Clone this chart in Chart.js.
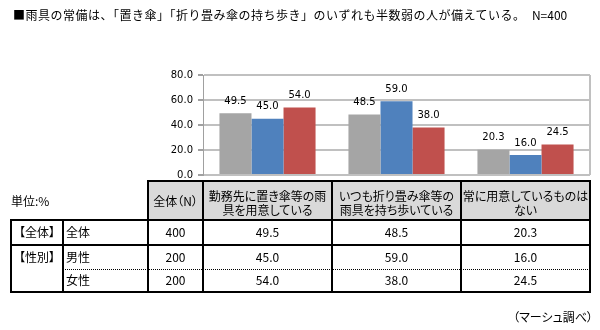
<!DOCTYPE html>
<html lang="ja">
<head>
<meta charset="utf-8">
<script src="https://cdn.jsdelivr.net/npm/chart.js@4.4.0/dist/chart.umd.min.js"></script>
<style>
  body {
    margin: 0;
    width: 600px;
    height: 330px;
    background: #fff;
    position: relative;
    overflow: hidden;
    font-family: "Noto Sans CJK JP", sans-serif;
    color: #000;
  }
  #title {
    position: absolute; left: 13px; top: 7px;
    font-size: 12px; line-height: 16px; letter-spacing: 0.5px; white-space: nowrap;
  }
  #title span { letter-spacing: 0; }
  #chartBox { position: absolute; left: 0; top: 0; }
  #table { position: absolute; left: 0; top: 0; width: 600px; height: 330px; font-feature-settings: "palt"; }
  .ln { position: absolute; background: #000; }
  .dot { position: absolute; border-top: 1px dotted #000; height: 0; }
  .bg { position: absolute; background: #d9d9d9; }
  .cell {
    position: absolute; display: flex; align-items: center; justify-content: center;
    text-align: center; font-size: 12px; line-height: 14px; white-space: nowrap;
  }
  .cell.left { justify-content: flex-start; padding-left: 3px; box-sizing: border-box; }
  #source {
    position: absolute; right: 7px; top: 309px;
    font-size: 12px; line-height: 16px; font-feature-settings: "palt";
  }
</style>
</head>
<body>
<div id="chartBox"><canvas id="chart" width="600" height="190"></canvas></div>
<div id="table"></div>
<div id="title">■雨具の常備は、「置き傘」「折り畳み傘の持ち歩き」のいずれも半数弱の人が備えている。　<span>N=400</span></div>
<div id="source">（マーシュ調べ）</div>
<script>
// カテゴリ（表の見出しは2行）
const categories = [
    ['勤務先に置き傘等の雨', '具を用意している'],
    ['いつも折り畳み傘等の', '雨具を持ち歩いている'],
    ['常に用意しているものは', 'ない']
];
const seriesNames = ['全体', '男性', '女性'];
const groupLabels = ['【全体】', '【性別】', ''];
const sampleSizes = [400, 200, 200];

// 値（%）
const zentai = [49.5, 48.5, 20.3];
const dansei = [45.0, 59.0, 16.0];
const josei = [54.0, 38.0, 24.5];

const yTicks = [0, 20, 40, 60, 80];
const unitLabel = '単位:%';
const nHeader = '全体（N）';

// 棒の上に数値を表示
const barLabels = {
    id: 'barLabels',
    afterDatasetsDraw(chart) {
        const ctx = chart.ctx;
        ctx.save();
        ctx.font = '10px "DejaVu Sans"';
        ctx.fillStyle = '#000';
        ctx.textAlign = 'center';
        ctx.textBaseline = 'middle';
        chart.data.datasets.forEach((ds, i) => {
            chart.getDatasetMeta(i).data.forEach((bar, j) => {
                ctx.fillText(ds.data[j].toFixed(1), bar.x, bar.y - 12);
            });
        });
        ctx.restore();
    }
};

// プロットエリアの枠（右側）
const plotFrame = {
    id: 'plotFrame',
    beforeDatasetsDraw(chart) {
        const a = chart.chartArea;
        const ctx = chart.ctx;
        ctx.save();
        ctx.strokeStyle = '#c0c0c0';
        ctx.lineWidth = 2;
        ctx.beginPath();
        ctx.moveTo(Math.round(a.right), a.top);
        ctx.lineTo(Math.round(a.right), a.bottom);
        ctx.stroke();
        ctx.restore();
    }
};

const ctx = document.getElementById('chart').getContext('2d');
const chart = new Chart(ctx, {
    type: 'bar',
    data: {
        labels: categories,
        datasets: [
            { label: seriesNames[0], data: zentai, backgroundColor: '#a5a5a5' },
            { label: seriesNames[1], data: dansei, backgroundColor: '#4f81bd' },
            { label: seriesNames[2], data: josei, backgroundColor: '#c0504d' }
        ]
    },
    options: {
        responsive: false,
        animation: false,
        events: [],
        layout: { padding: { left: 150, right: 10, top: 75, bottom: 15 } },
        datasets: { bar: { categoryPercentage: 0.745, barPercentage: 1.0 } },
        plugins: { legend: { display: false }, tooltip: { enabled: false } },
        scales: {
            x: { display: false },
            y: {
                min: yTicks[0],
                max: yTicks[yTicks.length - 1],
                afterBuildTicks: scale => { scale.ticks = yTicks.map(v => ({ value: v })); },
                afterFit: scale => { scale.width = 53; },
                grid: { color: '#c0c0c0', lineWidth: 2, tickLength: 5, tickColor: '#a0a0a0' },
                border: { color: '#a0a0a0', width: 1 },
                ticks: {
                    padding: 5,
                    color: '#000',
                    font: { family: 'DejaVu Sans', size: 10 },
                    callback: v => v.toFixed(1)
                }
            }
        }
    },
    plugins: [plotFrame, barLabels]
});

// 下の表をグラフのx軸に合わせて作る
function buildTable() {
    const box = document.getElementById('table');
    const xs = chart.scales.x;
    const half = (xs.getPixelForValue(1) - xs.getPixelForValue(0)) / 2;
    const catX = categories.map((c, i) => xs.getPixelForValue(i) - half);
    const right = xs.getPixelForValue(categories.length - 1) + half;
    const colX = [11, 63, 148].concat(catX, [right]);
    const rowY = [181, 220, 244.5, 268.5, 292];

    function add(cls, x, y, w, h, txt) {
        const d = document.createElement('div');
        d.className = cls;
        d.style.left = x + 'px';
        d.style.top = y + 'px';
        d.style.width = w + 'px';
        if (h !== null) d.style.height = h + 'px';
        if (txt !== undefined) d.innerHTML = txt;
        box.appendChild(d);
        return d;
    }

    // 見出しの背景
    add('bg', colX[2], rowY[0], right - colX[2], rowY[1] - rowY[0]);

    // 見出し
    add('cell', 11, rowY[0], 60, rowY[1] - rowY[0], unitLabel).style.justifyContent = 'flex-start';
    add('cell', colX[2], rowY[0], colX[3] - colX[2], rowY[1] - rowY[0] + 1, nHeader);
    categories.forEach((lines, i) => {
        add('cell', colX[3 + i], rowY[0] + 2, colX[4 + i] - colX[3 + i], rowY[1] - rowY[0], lines.join('<br>'));
    });

    // 行
    const rows = [zentai, dansei, josei];
    rows.forEach((vals, r) => {
        const y = rowY[1 + r];
        const h = rowY[2 + r] - y;
        if (groupLabels[r]) add('cell', colX[0], y, colX[1] - colX[0], h, groupLabels[r]);
        add('cell left', colX[1], y, colX[2] - colX[1], h, seriesNames[r]);
        add('cell', colX[2], y, colX[3] - colX[2], h, sampleSizes[r]);
        vals.forEach((v, i) => {
            add('cell', colX[3 + i], y, colX[4 + i] - colX[3 + i], h, v.toFixed(1));
        });
    });

    // 罫線
    const lw = 2;
    add('ln', colX[2] - 1, rowY[0] - 1, right - colX[2] + lw, lw);
    [1, 2, 4].forEach(k => add('ln', colX[0] - 1, rowY[k] - 1, right - colX[0] + lw, lw));
    add('dot', colX[1], rowY[3], right - colX[1], null);
    [0, 1].forEach(k => add('ln', colX[k] - 1, rowY[1] - 1, lw, rowY[4] - rowY[1] + lw));
    for (let k = 2; k < colX.length; k++) {
        add('ln', colX[k] - 1, rowY[0] - 1, lw, rowY[4] - rowY[0] + lw);
    }
}
buildTable();
</script>
</body>
</html>
